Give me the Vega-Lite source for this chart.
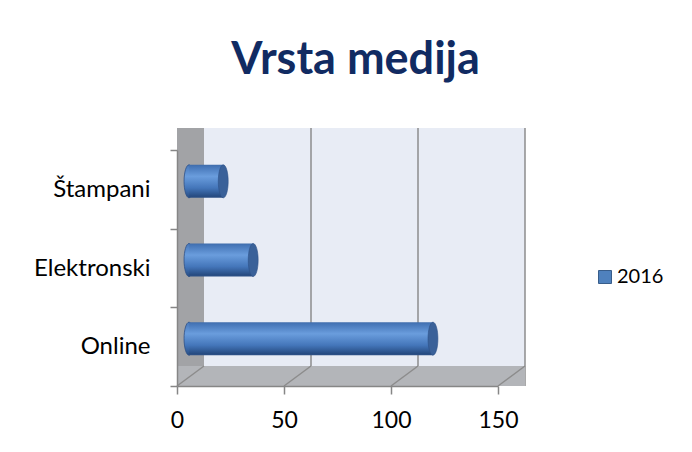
{
  "$schema": "https://vega.github.io/schema/vega-lite/v6.json",
  "width": 321,
  "height": 236,
  "autosize": {"type": "none"},
  "padding": {"left": 177, "top": 150, "right": 194, "bottom": 66},
  "background": "white",
  "config": {"view": {"stroke": null}, "font": "Lato"},
  "title": {
    "text": "Vrsta medija",
    "font": "Lato",
    "fontSize": 45,
    "fontWeight": "bold",
    "color": "#112B62",
    "anchor": "middle",
    "baseline": "alphabetic",
    "dx": 18,
    "offset": 8
  },
  "datasets": {
    "media": [
      {"medij": "Štampani", "godina": "2016", "broj": 16},
      {"medij": "Elektronski", "godina": "2016", "broj": 30},
      {"medij": "Online", "godina": "2016", "broj": 114}
    ],
    "grid": [{"g": 0}, {"g": 50}, {"g": 100}, {"g": 150}],
    "one": [{"k": 1}]
  },
  "layer": [
    {
      "data": {"name": "one"},
      "mark": {"type": "rect", "fill": "#E8ECF5", "xOffset": 27, "x2Offset": 27, "yOffset": -22, "y2Offset": -20},
      "encoding": {
        "x": {"datum": 0, "type": "quantitative", "scale": {"domain": [0, 150], "nice": false}},
        "x2": {"datum": 150}
      }
    },
    {
      "data": {"name": "grid"},
      "transform": [{"filter": "datum.g > 0"}],
      "mark": {"type": "rule", "color": "#8C8C8C", "strokeWidth": 1.5, "xOffset": 27, "yOffset": -22, "y2Offset": -20},
      "encoding": {
        "x": {"field": "g", "type": "quantitative"}
      }
    },
    {
      "data": {"name": "one"},
      "mark": {"type": "rect", "fill": "#A2A3A6", "x2Offset": 27, "yOffset": -22, "y2Offset": 0},
      "encoding": {
        "x": {"datum": 0, "type": "quantitative"},
        "x2": {"datum": 0}
      }
    },
    {
      "data": {"name": "one"},
      "mark": {"type": "rect", "fill": "#B3B5B9", "x2Offset": 27, "y2Offset": -20},
      "encoding": {
        "x": {"datum": 0, "type": "quantitative"},
        "x2": {"datum": 150},
        "y": {"value": "height"},
        "y2": {"value": "height"}
      }
    },
    {
      "data": {"name": "grid"},
      "mark": {"type": "rule", "color": "#8C8C8C", "strokeWidth": 1.5, "x2Offset": 27, "y2Offset": -20},
      "encoding": {
        "x": {"field": "g", "type": "quantitative"},
        "x2": {"field": "g"},
        "y": {"value": "height"},
        "y2": {"value": "height"}
      }
    },
    {
      "data": {"name": "media"},
      "mark": {
        "type": "point",
        "shape": "M0,-1 A0.3,1 0 1,1 0,1 A0.3,1 0 1,1 0,-1 Z",
        "size": 1089,
        "filled": true,
        "stroke": "#2E5186",
        "strokeWidth": 0.8,
        "opacity": 1,
        "xOffset": 12,
        "yOffset": -8,
        "fill": {
          "gradient": "linear",
          "x1": 0, "y1": 0, "x2": 0, "y2": 1,
          "stops": [
            {"offset": 0, "color": "#4676B8"},
            {"offset": 0.35, "color": "#6A9DDD"},
            {"offset": 0.7, "color": "#4476BA"},
            {"offset": 1, "color": "#274C82"}
          ]
        }
      },
      "encoding": {
        "y": {"field": "medij", "type": "nominal", "sort": ["Štampani", "Elektronski", "Online"]},
        "x": {"datum": 0, "type": "quantitative"}
      }
    },
    {
      "data": {"name": "media"},
      "mark": {
        "type": "bar",
        "height": 33,
        "xOffset": 12,
        "x2Offset": 12,
        "yOffset": -8,
        "fill": {
          "gradient": "linear",
          "x1": 0, "y1": 0, "x2": 0, "y2": 1,
          "stops": [
            {"offset": 0, "color": "#3F6CAB"},
            {"offset": 0.06, "color": "#4676B8"},
            {"offset": 0.35, "color": "#6A9DDD"},
            {"offset": 0.7, "color": "#4476BA"},
            {"offset": 0.95, "color": "#274C82"},
            {"offset": 1, "color": "#2E5186"}
          ]
        }
      },
      "encoding": {
        "y": {
          "field": "medij",
          "type": "nominal",
          "sort": ["Štampani", "Elektronski", "Online"],
          "axis": {
            "title": null,
            "zindex": 1,
            "domainColor": "#868686",
            "domainWidth": 1.5,
            "tickColor": "#868686",
            "tickWidth": 1.5,
            "tickSize": 7,
            "tickBand": "extent",
            "labelFontSize": 24,
            "labelFont": "Lato",
            "labelColor": "#000000",
            "labelPadding": 20
          }
        },
        "x": {
          "field": "broj",
          "type": "quantitative",
          "scale": {"domain": [0, 150], "nice": false},
          "axis": {
            "title": null,
            "zindex": 1,
            "grid": false,
            "labelFlush": false,
            "values": [0, 50, 100, 150],
            "domainColor": "#868686",
            "domainWidth": 1.5,
            "tickColor": "#868686",
            "tickWidth": 1.5,
            "tickSize": 8,
            "labelFontSize": 23,
            "labelFont": "Lato",
            "labelColor": "#000000",
            "labelPadding": 15
          }
        },
        "x2": {"datum": 0}
      }
    },
    {
      "data": {"name": "media"},
      "mark": {
        "type": "point",
        "shape": "M0,-1 A0.3,1 0 1,1 0,1 A0.3,1 0 1,1 0,-1 Z",
        "size": 1089,
        "filled": true,
        "fill": "#3A6199",
        "stroke": "#2E5186",
        "strokeWidth": 0.6,
        "opacity": 1,
        "xOffset": 12,
        "yOffset": -8
      },
      "encoding": {
        "y": {"field": "medij", "type": "nominal", "sort": ["Štampani", "Elektronski", "Online"]},
        "x": {"field": "broj", "type": "quantitative"}
      }
    },
    {
      "data": {"name": "media"},
      "mark": {"type": "square", "opacity": 0},
      "encoding": {
        "y": {"field": "medij", "type": "nominal", "sort": ["Štampani", "Elektronski", "Online"]},
        "x": {"field": "broj", "type": "quantitative"},
        "color": {
          "field": "godina",
          "type": "nominal",
          "scale": {"range": ["#4F81BD"]},
          "legend": {
            "title": null,
            "orient": "none",
            "legendX": 418,
            "legendY": 117,
            "symbolType": "square",
            "symbolSize": 169,
            "symbolOpacity": 1,
            "symbolStrokeColor": "#385D8A",
            "symbolStrokeWidth": 1,
            "labelFontSize": 20,
            "labelFont": "Lato",
            "labelColor": "#000000",
            "labelOffset": 2
          }
        }
      }
    }
  ]
}
